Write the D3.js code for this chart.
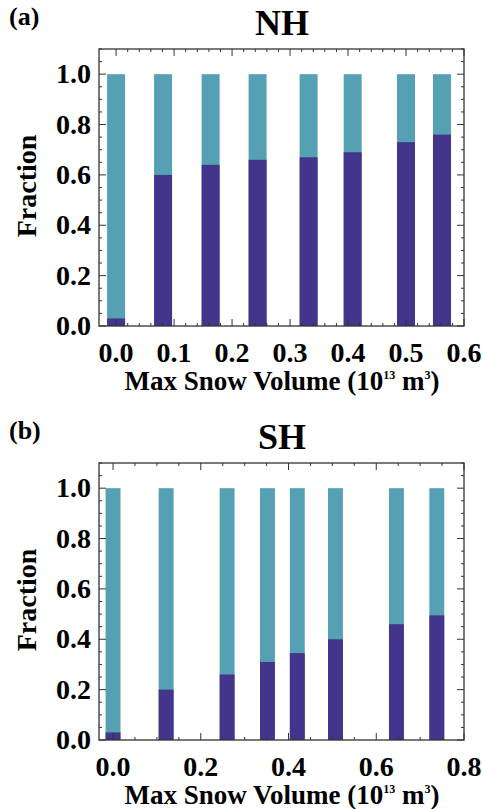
<!DOCTYPE html>
<html>
<head>
<script src="https://cdnjs.cloudflare.com/ajax/libs/d3/7.8.5/d3.min.js"></script>
<style>body{margin:0;background:#fff}</style>
</head>
<body>
<svg id="c" width="483" height="809"></svg>
<script>
// NH panel
var nhX = [0, 0.081, 0.163, 0.244, 0.332, 0.408, 0.5, 0.562];
var nhLow = [0.03, 0.60, 0.64, 0.66, 0.67, 0.69, 0.73, 0.76];
var nhTicks = [0, 0.1, 0.2, 0.3, 0.4, 0.5, 0.6];
// SH panel
var shX = [0, 0.121, 0.26, 0.352, 0.42, 0.507, 0.646, 0.738];
var shLow = [0.03, 0.20, 0.26, 0.31, 0.345, 0.40, 0.46, 0.495];
var shTicks = [0, 0.2, 0.4, 0.6, 0.8];
var yTicks = [0, 0.2, 0.4, 0.6, 0.8, 1.0];

var svg = d3.select("#c");

function txt(sel) {
  return sel.style("font-family", "'Liberation Serif', 'Times New Roman', serif").style("font-weight", "bold");
}

function panel(top, letter, title, xs, lows, xt, xdom, bw, minorStep) {
  var x = d3.scaleLinear().domain(xdom).range([99, 464]);
  var y = d3.scaleLinear().domain([0, 1.1]).range([top + 277, top]);
  var g = svg.append("g");
  var w = x(bw) - x(0);

  g.selectAll(".hi").data(xs).enter().append("rect")
    .attr("x", function (d) { return x(d) - w / 2; }).attr("width", w)
    .attr("y", y(1)).attr("height", y(0) - y(1)).attr("fill", "#55a0b2");
  g.selectAll(".lo").data(lows).enter().append("rect")
    .attr("x", function (d, i) { return x(xs[i]) - w / 2; }).attr("width", w)
    .attr("y", function (d) { return y(d); })
    .attr("height", function (d) { return y(0) - y(d); }).attr("fill", "#43358c");

  // ticks inside, mirrored
  d3.range(0, 1.1001, 0.05).forEach(function (v) {
    var major = Math.abs(v * 5 - Math.round(v * 5)) < 1e-6;
    var len = major ? 7 : 3;
    g.append("line").attr("x1", 99).attr("x2", 99 + len).attr("y1", y(v)).attr("y2", y(v)).attr("stroke", "#333");
    g.append("line").attr("x1", 464).attr("x2", 464 - len).attr("y1", y(v)).attr("y2", y(v)).attr("stroke", "#333");
  });
  d3.range(0, xdom[1] + 1e-6, minorStep).forEach(function (v) {
    var major = xt.some(function (t) { return Math.abs(t - v) < 1e-6; });
    var len = major ? 7 : 3;
    g.append("line").attr("x1", x(v)).attr("x2", x(v)).attr("y1", y(0)).attr("y2", y(0) - len).attr("stroke", "#333");
    g.append("line").attr("x1", x(v)).attr("x2", x(v)).attr("y1", top).attr("y2", top + len).attr("stroke", "#333");
  });
  g.append("rect").attr("x", 99).attr("y", top).attr("width", 365).attr("height", 277)
    .attr("fill", "none").attr("stroke", "#333").attr("stroke-width", 1.3);

  txt(g.selectAll(".yl").data(yTicks).enter().append("text"))
    .attr("x", 91).attr("y", function (d) { return y(d) + 9; })
    .attr("text-anchor", "end").style("font-size", "28px").text(function (d) { return d.toFixed(1); });
  txt(g.selectAll(".xl").data(xt).enter().append("text"))
    .attr("x", function (d) { return x(d); }).attr("y", y(0) + 36)
    .attr("text-anchor", "middle").style("font-size", "28px").text(function (d) { return d.toFixed(1); });

  var xl = txt(g.append("text")).attr("x", 282).attr("y", y(0) + 64).attr("text-anchor", "middle").style("font-size", "27px");
  xl.append("tspan").text("Max Snow Volume (10");
  xl.append("tspan").style("font-size", "12px").attr("dy", -11).text("13");
  xl.append("tspan").attr("dy", 11).text(" m");
  xl.append("tspan").style("font-size", "12px").attr("dy", -11).text("3");
  xl.append("tspan").attr("dy", 11).text(")");

  txt(g.append("text")).attr("transform", "translate(36," + (top + 137) + ") rotate(-90)")
    .attr("text-anchor", "middle").style("font-size", "28px").text("Fraction");
  txt(g.append("text")).attr("x", 9).attr("y", top - 24).style("font-size", "26px").text(letter);
  txt(g.append("text")).attr("x", 282).attr("y", top - 14).attr("text-anchor", "middle").style("font-size", "36px").text(title);
}

panel(49, "(a)", "NH", nhX, nhLow, nhTicks, [-0.0295, 0.6], 0.031, 0.02);
panel(463, "(b)", "SH", shX, shLow, shTicks, [-0.032, 0.8], 0.034, 0.05);
</script>
</body>
</html>
